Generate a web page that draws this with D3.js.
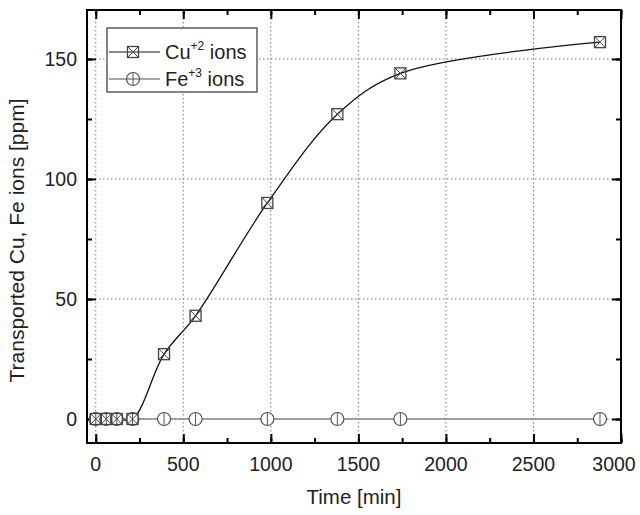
<!DOCTYPE html>
<html>
<head>
<meta charset="utf-8">
<script src="https://cdn.jsdelivr.net/npm/d3@7"></script>
<style>
  body { margin: 0; background: #fff; }
  text { font-family: "Liberation Sans", Arial, sans-serif; fill: #222; }
</style>
</head>
<body>
<div id="chart"></div>
<script>
// data
var times = [0, 60, 120, 210, 390, 570, 980, 1380, 1740, 2880];
var cuValues = [0, 0, 0, 0, 27, 43, 90, 127, 144, 157];
var feValues = [0, 0, 0, 0, 0, 0, 0, 0, 0, 0];
var xTicks = [0, 500, 1000, 1500, 2000, 2500, 3000];
var yTicks = [0, 50, 100, 150];

var svgWidth = 640;
var svgHeight = 515;

var margins = { top: 10, bottom: 72, left: 87, right: 19 };
var width = svgWidth - margins.left - margins.right;
var height = svgHeight - margins.top - margins.bottom;

var svg = d3.select("#chart").append("svg").attr("width", svgWidth).attr("height", svgHeight);
var chartGroup = svg.append("g").attr("transform", `translate(${margins.left},${margins.top})`);

var xScale = d3.scaleLinear().domain([-50, 3000]).range([0, width]);
var yScale = d3.scaleLinear().domain([-10, 170.4]).range([height, 0]);

// dotted grid
chartGroup.selectAll(".vgrid").data(xTicks.slice(0, -1)).enter().append("line")
    .attr("x1", d => xScale(d)).attr("x2", d => xScale(d))
    .attr("y1", 0).attr("y2", height)
    .attr("stroke", "#777").attr("stroke-width", 1).attr("stroke-dasharray", "1.5,2.5");
chartGroup.selectAll(".hgrid").data(yTicks).enter().append("line")
    .attr("y1", d => yScale(d)).attr("y2", d => yScale(d))
    .attr("x1", 0).attr("x2", width)
    .attr("stroke", "#777").attr("stroke-width", 1).attr("stroke-dasharray", "1.5,2.5");

// axes with inward ticks
var xMinor = d3.range(0, 3001, 250);
var yMinor = d3.range(0, 170, 25);

function tickSet(axisFn, scale, values, size, transform) {
    chartGroup.append("g").attr("transform", transform)
        .call(axisFn(scale).tickValues(values).tickSize(size).tickFormat(""))
        .call(g => g.select(".domain").remove())
        .selectAll("line").attr("stroke", "#000").attr("stroke-width", 2);
}
tickSet(d3.axisTop, xScale, xMinor, 5, `translate(0,${height})`);
tickSet(d3.axisTop, xScale, xTicks, 9, `translate(0,${height})`);
tickSet(d3.axisBottom, xScale, xMinor, 5, "translate(0,0)");
tickSet(d3.axisBottom, xScale, xTicks, 9, "translate(0,0)");
tickSet(d3.axisRight, yScale, yMinor, 5, "translate(0,0)");
tickSet(d3.axisRight, yScale, yTicks, 9, "translate(0,0)");
tickSet(d3.axisLeft, yScale, yMinor, 5, `translate(${width},0)`);
tickSet(d3.axisLeft, yScale, yTicks, 9, `translate(${width},0)`);

// tick labels (last one pulled in so it stays inside the window)
chartGroup.selectAll(".xlab").data(xTicks).enter().append("text")
    .attr("x", d => Math.min(xScale(d), width - 7)).attr("y", height + 28)
    .attr("text-anchor", "middle").style("font-size", "19.5px")
    .text(d => d);
chartGroup.selectAll(".ylab").data(yTicks).enter().append("text")
    .attr("x", -10).attr("y", d => yScale(d) + 7)
    .attr("text-anchor", "end").style("font-size", "19.5px")
    .text(d => d);

// axis titles
chartGroup.append("text")
    .attr("x", width / 2).attr("y", height + 61)
    .attr("text-anchor", "middle").style("font-size", "20.5px")
    .text("Time [min]");
chartGroup.append("text")
    .attr("transform", "rotate(-90)")
    .attr("x", -height / 2 - 14).attr("y", -63)
    .attr("text-anchor", "middle").style("font-size", "21px")
    .text("Transported Cu, Fe ions [ppm]");

var cuData = times.map((t, i) => ({ t: t, v: cuValues[i] }));
var feData = times.map((t, i) => ({ t: t, v: feValues[i] }));

// Fe line
chartGroup.append("path").datum(feData)
    .attr("fill", "none").attr("stroke", "#888").attr("stroke-width", 1.5)
    .attr("d", d3.line().x(d => xScale(d.t)).y(d => yScale(d.v)));

// Cu smooth curve
chartGroup.append("path").datum(cuData)
    .attr("fill", "none").attr("stroke", "#111").attr("stroke-width", 1.3)
    .attr("d", d3.line().curve(d3.curveCatmullRom.alpha(0.5)).x(d => xScale(d.t)).y(d => yScale(d.v)));

function drawSquare(g, cx, cy) {
    var s = 5.5;
    g.append("rect").attr("x", cx - s).attr("y", cy - s).attr("width", 2 * s).attr("height", 2 * s)
        .attr("fill", "none").attr("stroke", "#444").attr("stroke-width", 1.3);
    g.append("path").attr("d", `M${cx - s},${cy - s}L${cx + s},${cy + s}M${cx + s},${cy - s}L${cx - s},${cy + s}`)
        .attr("stroke", "#444").attr("stroke-width", 1);
}
function drawCircle(g, cx, cy, fill) {
    var r = 6.5;
    g.append("circle").attr("cx", cx).attr("cy", cy).attr("r", r)
        .attr("fill", fill).attr("stroke", "#555").attr("stroke-width", 1.2);
    g.append("line").attr("x1", cx).attr("x2", cx).attr("y1", cy - r).attr("y2", cy + r)
        .attr("stroke", "#555").attr("stroke-width", 1);
}

var markGroup = chartGroup.append("g");
feData.forEach(d => drawCircle(markGroup, xScale(d.t), yScale(d.v), "#fff"));
cuData.forEach(d => drawSquare(markGroup, xScale(d.t), yScale(d.v)));

// frame
chartGroup.append("rect").attr("width", width).attr("height", height)
    .attr("fill", "none").attr("stroke", "#000").attr("stroke-width", 2);

// legend
var legend = chartGroup.append("g").attr("transform", "translate(20,18)");
legend.append("rect").attr("width", 150).attr("height", 64)
    .attr("fill", "#fff").attr("stroke", "#333").attr("stroke-width", 1.2);
var entries = [["Cu", "+2", 24, "#666"], ["Fe", "+3", 51, "#888"]];
entries.forEach(function(e, i) {
    legend.append("line").attr("x1", 2).attr("x2", 53).attr("y1", e[2]).attr("y2", e[2])
        .attr("stroke", e[3]).attr("stroke-width", 1.5);
    if (i === 0) drawSquare(legend, 26, e[2]);
    else drawCircle(legend, 26, e[2], "none");
    var t = legend.append("text").attr("x", 58).attr("y", e[2] + 7).style("font-size", "20px");
    t.append("tspan").text(e[0]);
    t.append("tspan").attr("dy", -9).style("font-size", "12px").text(e[1]);
    t.append("tspan").attr("dy", 9).text(" ions");
});
</script>
</body>
</html>
